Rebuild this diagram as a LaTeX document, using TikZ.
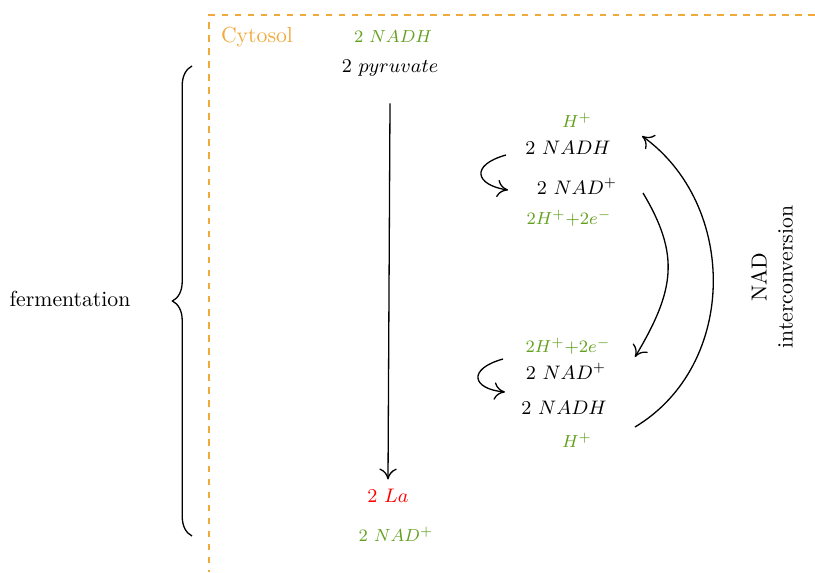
\documentclass[tikz,border=0pt]{standalone}
\usetikzlibrary{decorations.pathreplacing,arrows.meta}
\definecolor{cgreen}{RGB}{98,160,30}
\definecolor{corange}{RGB}{240,170,60}
\begin{document}
\begin{tikzpicture}[x=0.46pt,y=-0.46pt,
  gr/.style={text=cgreen,font=\footnotesize},
  bl/.style={font=\small},
  conn/.style={-{Computer Modern Rightarrow[length=5pt,width=8pt]},black,semithick}]
\useasboundingbox (0,0) rectangle (815,572);
% cytosol box
\draw[draw=corange,semithick,dash pattern=on 3pt off 3pt] (815,15) -- (209,15) -- (209,572);
\node[text=corange] (cyt) at (257,37) {Cytosol};
\node[gr] (nadhtop) at (393,37) {$2\ NADH$};
\node[bl] (pyr) at (390,68) {$2\ pyruvate$};
\node[text=red,font=\small] (la) at (388,496) {$2\ La$};
\node[gr] (nadbot) at (396,534) {$2\ NAD^{+}$};
\draw[conn] ([yshift=-9pt]pyr.south) -- ([yshift=1pt]la.north);
% brace
\draw[semithick,decorate,decoration={brace,amplitude=9pt}] (192,536) -- (192,66);
\node (ferm) at (70,299) {fermentation};
% top exchange
\node[gr] (h1) at (577,120) {$H^{+}$};
\node[bl] (n1) at (568,148) {$2\ NADH$};
\node[bl] (n2) at (577,186) {$2\ NAD^{+}$};
\node[gr] (e1) at (569,218) {$2H^{+}{+}2e^{-}$};
% bottom exchange
\node[gr] (e2) at (568,346) {$2H^{+}{+}2e^{-}$};
\node[bl] (n3) at (566,371) {$2\ NAD^{+}$};
\node[bl] (n4) at (564,408) {$2\ NADH$};
\node[gr] (h2) at (577,440) {$H^{+}$};
% small loops
\coordinate (s1a) at (506,155);
\coordinate (s1b) at (508,190);
\coordinate (s2a) at (503,359);
\coordinate (s2b) at (505,392);
\draw[conn] (s1a) .. controls (470,165) and (475,185) .. (s1b);
\draw[conn] (s2a) .. controls (467,369) and (472,389) .. (s2b);
% arcs
\coordinate (ia) at (643,193);
\coordinate (ib) at (635,357);
\coordinate (oa) at (635,427);
\coordinate (ob) at (642,136);
\draw[conn] (ia) .. controls (680,255) and (675,290) .. (ib);
\draw[conn] (oa) .. controls (738,365) and (738,205) .. (ob);
\node[rotate=90,align=center] (nadi) at (772,277) {NAD\\interconversion};
\end{tikzpicture}
\end{document}
